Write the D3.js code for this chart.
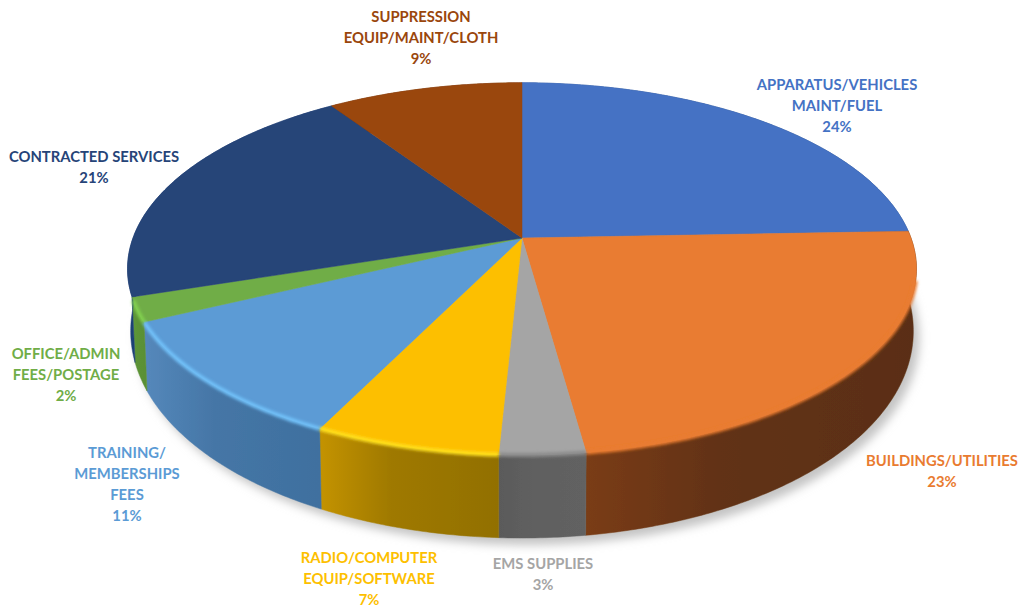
<!DOCTYPE html>
<html>
<head>
<meta charset="utf-8">
<script src="https://cdnjs.cloudflare.com/ajax/libs/d3/7.8.5/d3.min.js"></script>
<style>
  html, body { margin: 0; padding: 0; background: #fff; }
  svg { display: block; }
  text { font-family: Lato, "Open Sans", sans-serif; font-weight: 700; font-size: 14.8px; text-anchor: middle; }
</style>
</head>
<body>
<svg width="1035" height="610"></svg>
<script>
// values, clockwise from 12 o'clock
var categories = [
  ["APPARATUS/VEHICLES", "MAINT/FUEL"],
  ["BUILDINGS/UTILITIES"],
  ["EMS SUPPLIES"],
  ["RADIO/COMPUTER", "EQUIP/SOFTWARE"],
  ["TRAINING/", "MEMBERSHIPS", "FEES"],
  ["OFFICE/ADMIN", "FEES/POSTAGE"],
  ["CONTRACTED SERVICES"],
  ["SUPPRESSION", "EQUIP/MAINT/CLOTH"]
];
var values = [24.4, 23.4, 3.0, 6.5, 10.6, 2.1, 20.6, 9.4];

var colors = ["#4472c4", "#e97b30", "#a5a5a5", "#fdbf00", "#5b9bd5", "#70ad47", "#264478", "#9a460c"];
var rimColors = ["#4472c4", "#e97b30", "#8a8a8a", "#ffe11a", "#72c2fa", "#82d250", "#264478", "#9a460c"];
var wallLeft = ["#2f5597", "#7a3c14", "#5a5a5a", "#c49300", "#5588bb", "#5f9a3a", "#1d3f75", "#6b3209"];
var wallRight = ["#2a4a80", "#5a2e12", "#626262", "#927000", "#3f709f", "#5a9034", "#1d3f75", "#6b3209"];

// label centres, first line
var labelX = [837, 942, 543, 369, 127, 66, 94, 421];
var labelY = [85, 461, 564, 558, 453, 354, 157, 17];
var lineHeight = 21;

var svg = d3.select("svg");

// tilted disc: a circle seen in perspective, so the hub sits above the ellipse centre
var cx = 522, cy = 238, bx = 389, by = 181, k = 0.166;

function rim(angle, lower) {
  var x = Math.sin(angle), y = -Math.cos(angle);
  var w = 1 - k * y;
  var px = cx + bx * x / w, py = cy + by * y / w;
  if (lower) {
    px = cx + (px - cx) * 0.992;
    py += 58 + 25 * y;
  }
  return [px, py];
}

function arcPoints(d, lower) {
  var n = Math.ceil((d.endAngle - d.startAngle) / 0.01), pts = [];
  for (var i = 0; i <= n; i++) {
    pts.push(rim(d.startAngle + (d.endAngle - d.startAngle) * i / n, lower));
  }
  return pts;
}

var line = d3.line();
var pie = d3.pie().sort(null).value(function(d) { return d; });
var slices = pie(values);

var outline = [];
for (var a = 0; a < 2 * Math.PI; a += 0.02) outline.push(rim(a, true));

var defs = svg.append("defs");
defs.append("filter").attr("id", "shadow")
    .attr("x", "-10%").attr("y", "-10%").attr("width", "120%").attr("height", "120%")
  .append("feGaussianBlur").attr("stdDeviation", 5);
defs.append("filter").attr("id", "soft")
    .attr("filterUnits", "userSpaceOnUse")
    .attr("x", 0).attr("y", 0).attr("width", 1035).attr("height", 610)
  .append("feGaussianBlur").attr("stdDeviation", 1.6);
defs.append("filter").attr("id", "tiny")
    .attr("x", "-5%").attr("y", "-5%").attr("width", "110%").attr("height", "110%")
  .append("feGaussianBlur").attr("stdDeviation", 0.5);

var grad = defs.selectAll("linearGradient")
    .data(slices)
  .enter().append("linearGradient")
    .attr("id", function(d, i) { return "wall" + i; })
    .attr("gradientUnits", "userSpaceOnUse")
    .attr("x1", function(d) { return d3.min(arcPoints(d), function(p) { return p[0]; }); })
    .attr("x2", function(d) { return d3.max(arcPoints(d), function(p) { return p[0]; }); })
    .attr("y1", 0).attr("y2", 0);
grad.append("stop").attr("offset", 0).attr("stop-color", function(d, i) { return wallLeft[i]; });
grad.append("stop").attr("offset", 0.4).attr("stop-color", function(d, i) {
  return d3.interpolateRgb(wallLeft[i], wallRight[i])(0.75);
});
grad.append("stop").attr("offset", 1).attr("stop-color", function(d, i) { return wallRight[i]; });

// shadow under the drum
svg.append("path")
    .attr("d", line(outline) + "Z")
    .attr("transform", "translate(6,7)")
    .attr("fill", "#c4c4c4")
    .attr("filter", "url(#shadow)");

var pieG = svg.append("g").attr("filter", "url(#tiny)");

// side walls
pieG.selectAll(".wall")
    .data(slices)
  .enter().append("path")
    .attr("class", "wall")
    .attr("d", function(d) {
      return line(arcPoints(d).concat(arcPoints(d, true).reverse())) + "Z";
    })
    .attr("fill", function(d, i) { return "url(#wall" + i + ")"; })
    .attr("stroke", function(d, i) { return "url(#wall" + i + ")"; })
    .attr("stroke-width", 0.5);

// top faces
pieG.selectAll(".face")
    .data(slices)
  .enter().append("path")
    .attr("class", "face")
    .attr("d", function(d) { return line([[cx, cy]].concat(arcPoints(d))) + "Z"; })
    .attr("fill", function(d, i) { return colors[i]; })
    .attr("stroke", function(d, i) { return colors[i]; })
    .attr("stroke-width", 0.5);

// bevel along the front edge only, the back edge has none
var frontFrom = 1.8, frontTo = 4.38;
var frontSlices = slices.filter(function(d) {
  return d.endAngle > frontFrom && d.startAngle < frontTo;
}).map(function(d) {
  return { index: d.index, startAngle: Math.max(d.startAngle, frontFrom), endAngle: Math.min(d.endAngle, frontTo) };
});

pieG.selectAll(".rim")
    .data(frontSlices)
  .enter().append("path")
    .attr("class", "rim")
    .attr("d", function(d) { return line(arcPoints(d)); })
    .attr("fill", "none")
    .attr("stroke", function(d) { return rimColors[d.index]; })
    .attr("stroke-width", 4)
    .attr("filter", "url(#soft)");

// labels
var label = svg.selectAll(".label")
    .data(slices)
  .enter().append("text")
    .attr("class", "label")
    .attr("fill", function(d, i) { return colors[i]; });

label.each(function(d, i) {
  var total = d3.sum(values);
  var lines = categories[i].concat([d3.format(".0f")(d.value / total * 100) + "%"]);
  d3.select(this).selectAll("tspan")
      .data(lines)
    .enter().append("tspan")
      .attr("x", labelX[i])
      .attr("y", function(t, j) { return labelY[i] + j * lineHeight; })
      .attr("dy", "0.35em")
      .text(function(t) { return t; });
});
</script>
</body>
</html>
